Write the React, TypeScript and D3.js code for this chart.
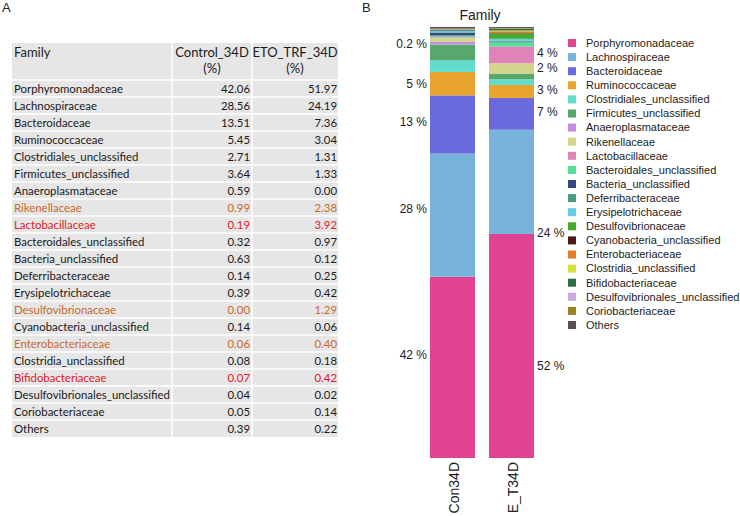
import * as d3 from 'd3'

const families = [
  'Porphyromonadaceae', 'Lachnospiraceae', 'Bacteroidaceae', 'Ruminococcaceae',
  'Clostridiales_unclassified', 'Firmicutes_unclassified', 'Anaeroplasmataceae',
  'Rikenellaceae', 'Lactobacillaceae', 'Bacteroidales_unclassified', 'Bacteria_unclassified',
  'Deferribacteraceae', 'Erysipelotrichaceae', 'Desulfovibrionaceae', 'Cyanobacteria_unclassified',
  'Enterobacteriaceae', 'Clostridia_unclassified', 'Bifidobacteriaceae',
  'Desulfovibrionales_unclassified', 'Coriobacteriaceae', 'Others',
]
const control34D = [42.06, 28.56, 13.51, 5.45, 2.71, 3.64, 0.59, 0.99, 0.19, 0.32, 0.63, 0.14, 0.39, 0.0, 0.14, 0.06, 0.08, 0.07, 0.04, 0.05, 0.39]
const etoTrf34D = [51.97, 24.19, 7.36, 3.04, 1.31, 1.33, 0.0, 2.38, 3.92, 0.97, 0.12, 0.25, 0.42, 1.29, 0.06, 0.4, 0.18, 0.42, 0.02, 0.14, 0.22]
const familyColors = [
  '#e0438f', '#77b3db', '#6a6adc', '#e8a42f', '#62dccb', '#56a86c', '#c58ee0',
  '#d4d48c', '#e084b8', '#50e09a', '#334a80', '#4a9a86', '#60cce8', '#4aa82e',
  '#4a1a1a', '#e57a2e', '#d4e03a', '#2e6e46', '#c8aee0', '#9a8020', '#5a5058',
]
const orangeRows = ['Rikenellaceae', 'Desulfovibrionaceae', 'Enterobacteriaceae']
const redRows = ['Lactobacillaceae', 'Bifidobacteriaceae']

const samples = ['Con34D', 'E_T34D']
// label text + vertical position (% of bar height)
const conLabels = [
  { text: '42 %', pos: 23.9 }, { text: '28 %', pos: 57.8 }, { text: '13 %', pos: 78.0 },
  { text: '5 %', pos: 86.8 }, { text: '0.2 %', pos: 96.1 },
]
const etoLabels = [
  { text: '52 %', pos: 21.3 }, { text: '24 %', pos: 52.2 }, { text: '7 %', pos: 80.3 },
  { text: '3 %', pos: 85.4 }, { text: '2 %', pos: 90.5 }, { text: '4 %', pos: 94.0 },
]

const tableFont = 'Lato, "Open Sans", sans-serif'
const chartFont = '"Liberation Sans", Arial, sans-serif'

function textColor(name: string) {
  if (redRows.includes(name)) return '#e0202a'
  if (orangeRows.includes(name)) return '#c8692a'
  return '#1a1a1a'
}

function Table() {
  const x0 = 12, x1 = 172, x2 = 252, x3 = 338
  const headTop = 43, rowTop = 80, rowH = 17
  const y = d3.scaleBand<string>().domain(families).range([rowTop, rowTop + rowH * families.length])
  return (
    <g>
      <text x={2} y={12} fontFamily={chartFont} fontSize={13} fill="#222">A</text>
      <rect x={x0} y={headTop} width={x3 - x0} height={y.range()[1] - headTop} fill="#e6e6e6" />
      <text x={x0 + 2} y={57} fontFamily={tableFont} fontSize={13} fill="#1a1a1a">Family</text>
      <text x={(x1 + x2) / 2} y={57} textAnchor="middle" fontFamily={tableFont} fontSize={13} fill="#1a1a1a">Control_34D</text>
      <text x={(x1 + x2) / 2} y={73} textAnchor="middle" fontFamily={tableFont} fontSize={13} fill="#1a1a1a">(%)</text>
      <text x={(x2 + x3) / 2} y={57} textAnchor="middle" fontFamily={tableFont} fontSize={13} fill="#1a1a1a">ETO_TRF_34D</text>
      <text x={(x2 + x3) / 2} y={73} textAnchor="middle" fontFamily={tableFont} fontSize={13} fill="#1a1a1a">(%)</text>
      {families.map((f, i) => {
        const yy = y(f)!
        const c = textColor(f)
        return (
          <g key={f}>
            <line x1={x0} x2={x3} y1={yy} y2={yy} stroke="#fff" strokeWidth={1.5} />
            <text x={x0 + 2} y={yy + rowH / 2 + 4} fontFamily={tableFont} fontSize={11.4} fill={c}>{f}</text>
            <text x={x2 - 2} y={yy + rowH / 2 + 4} textAnchor="end" fontFamily={tableFont} fontSize={11.4} fill={c}>{control34D[i].toFixed(2)}</text>
            <text x={x3 - 1} y={yy + rowH / 2 + 4} textAnchor="end" fontFamily={tableFont} fontSize={11.4} fill={c}>{etoTrf34D[i].toFixed(2)}</text>
          </g>
        )
      })}
      <line x1={x1} x2={x1} y1={headTop} y2={y.range()[1]} stroke="#fff" strokeWidth={1.5} />
      <line x1={x2} x2={x2} y1={headTop} y2={y.range()[1]} stroke="#fff" strokeWidth={1.5} />
    </g>
  )
}

function Bars() {
  const rows = samples.map((s, si) => {
    const r: Record<string, any> = { sample: s }
    families.forEach((f, i) => { r[f] = si === 0 ? control34D[i] : etoTrf34D[i] })
    return r
  })
  const series = d3.stack<any>().keys(families)(rows)
  const x = d3.scaleBand<string>().domain(samples).range([430, 534]).paddingInner(0.237).paddingOuter(0)
  const y = d3.scaleLinear().domain([0, 100]).range([458, 27])
  const color = d3.scaleOrdinal<string, string>().domain(families).range(familyColors)
  const legendY = d3.scalePoint<string>().domain(families).range([43, 325])
  const bw = x.bandwidth()
  return (
    <g>
      <text x={362} y={12} fontFamily={chartFont} fontSize={13} fill="#222">B</text>
      <text x={480} y={20} textAnchor="middle" fontFamily={chartFont} fontSize={14} fill="#222">Family</text>
      {series.map((layer) => (
        <g key={layer.key} fill={color(layer.key)}>
          {layer.map((d) => (
            <rect key={d.data.sample} x={x(d.data.sample)} y={y(d[1])} width={bw} height={Math.max(0, y(d[0]) - y(d[1]))} />
          ))}
        </g>
      ))}
      {conLabels.map((l) => (
        <text key={l.text} x={x('Con34D')! - 3} y={y(l.pos)} dy="0.35em" textAnchor="end" fontFamily={chartFont} fontSize={12} fill="#222">{l.text}</text>
      ))}
      {etoLabels.map((l) => (
        <text key={l.text} x={x('E_T34D')! + bw + 3} y={y(l.pos)} dy="0.35em" fontFamily={chartFont} fontSize={12} fill="#222">{l.text}</text>
      ))}
      {samples.map((s) => (
        <text key={s} transform={`translate(${x(s)! + bw / 2 + 6.5},462) rotate(-90)`} textAnchor="end" fontFamily={chartFont} fontSize={14} fill="#222">{s}</text>
      ))}
      {families.map((f) => (
        <g key={f} transform={`translate(568,${legendY(f)})`}>
          <rect x={0} y={-4} width={8} height={8} fill={color(f)} />
          <text x={18} y={0} dy="0.35em" fontFamily={chartFont} fontSize={11} fill="#222">{f}</text>
        </g>
      ))}
    </g>
  )
}

export default function App() {
  return (
    <svg width={740} height={516} style={{ position: 'absolute', left: 0, top: 0, background: '#fff' }}>
      <Table />
      <Bars />
    </svg>
  )
}
